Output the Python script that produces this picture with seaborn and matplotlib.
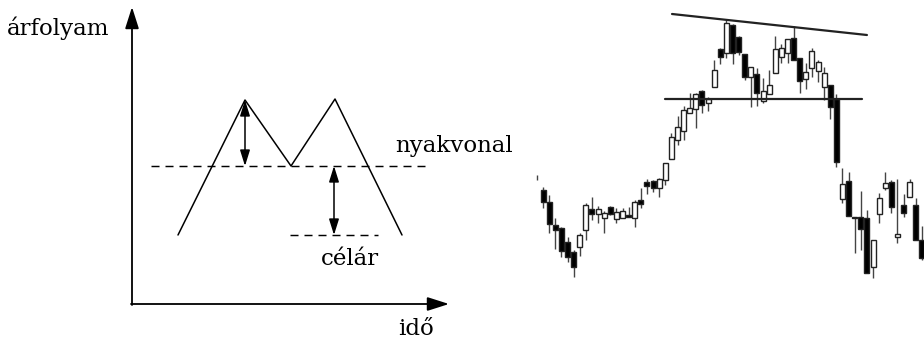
import numpy as np
import pandas as pd
import matplotlib.pyplot as plt
import seaborn as sns

# --- sematikus dupla csúcs ---
pattern_t = [46, 113, 159, 203, 270]
pattern_p = [69, 204, 138, 205, 69]
neck_level = 138
neck_span = [19, 293]
target_level = 69
target_span = [158, 246]

# --- gyertyák (open, high, low, close) ---
opens = [123, 110, 98, 75, 72, 58, 48, 53, 70, 91, 86, 82, 93, 81, 82, 85, 82, 100, 118, 119,
         112, 120, 141, 160, 169, 187, 191, 209, 197, 213, 251, 247, 275, 263, 246, 223, 226, 199, 206, 227,
         243, 247, 262, 242, 221, 232, 229, 213, 215, 201, 101, 119, 83, 83, 82, 33, 86, 112, 118, 63,
         95, 103, 95, 60]
closes = [123, 98, 76, 70, 49, 43, 33, 65, 95, 86, 91, 87, 86, 88, 89, 83, 98, 96, 114, 112,
          121, 137, 163, 173, 190, 192, 206, 195, 201, 230, 243, 277, 247, 248, 223, 233, 207, 209, 215, 251,
          252, 261, 240, 219, 228, 249, 238, 227, 193, 138, 116, 84, 82, 71, 27, 60, 102, 117, 93, 66,
          87, 118, 60, 42]
highs = [125, 113, 105, 82, 73, 63, 50, 67, 97, 103, 94, 89, 94, 92, 92, 93, 100, 112, 121, 120,
         122, 137, 167, 184, 194, 207, 207, 210, 203, 240, 252, 280, 276, 264, 246, 233, 232, 222, 230, 264,
         256, 261, 274, 242, 237, 252, 240, 233, 215, 206, 132, 128, 83, 109, 90, 60, 107, 128, 120, 121,
         106, 121, 102, 74]
lows = [120, 92, 67, 51, 43, 38, 23, 44, 60, 80, 77, 67, 85, 77, 82, 83, 73, 92, 106, 108,
        103, 115, 141, 155, 160, 187, 172, 187, 189, 213, 236, 242, 236, 245, 220, 193, 194, 197, 206, 227,
        237, 237, 240, 207, 211, 223, 218, 200, 181, 133, 97, 84, 47, 50, 27, 22, 77, 110, 87, 57,
        83, 103, 60, 40]
top_line_x = [22.1, 54.0]
top_line_y = [286, 265]
neck2_x = [20.9, 53.2]
neck2_y = [201, 201]

candles = pd.DataFrame({"open": opens, "high": highs, "low": lows, "close": closes})
candles["day"] = np.arange(len(candles))
candles["up"] = candles["close"] >= candles["open"]

sns.set_theme(style="white")
plt.rcParams["font.family"] = ["DejaVu Serif", "DejaVu Sans"]

fig = plt.figure(figsize=(9.24, 3.39), dpi=100)

# bal oldali ábra
ax = fig.add_axes([132 / 924, 35 / 339, 316 / 924, 296 / 339])
ax.set_xlim(0, 316)
ax.set_ylim(0, 296)
ax.axis("off")

ax.annotate("", xy=(0, 297), xytext=(0, -1), annotation_clip=False,
            arrowprops=dict(arrowstyle="-|>,head_length=1.1,head_width=0.35", color="black", lw=1.3,
                            shrinkA=0, shrinkB=0))
ax.annotate("", xy=(317, 0), xytext=(-1, 0), annotation_clip=False,
            arrowprops=dict(arrowstyle="-|>,head_length=1.1,head_width=0.35", color="black", lw=1.3,
                            shrinkA=0, shrinkB=0))

sns.lineplot(x=pattern_t, y=pattern_p, ax=ax, color="black", lw=1.1, sort=False)
ax.plot(neck_span, [neck_level, neck_level], color="black", lw=1.05, dashes=(5.5, 4.1))
ax.plot(target_span, [target_level, target_level], color="black", lw=1.05, dashes=(5.5, 4.1))

arrow = dict(arrowstyle="<|-|>,head_length=0.8,head_width=0.25", color="black", lw=1.1,
             shrinkA=0, shrinkB=0)
ax.annotate("", xy=(pattern_t[1], pattern_p[1]), xytext=(pattern_t[1], neck_level), arrowprops=arrow)
ax.annotate("", xy=(202, neck_level), xytext=(202, target_level), arrowprops=arrow)

fs = 16.5
txt = dict(fontsize=fs, ha="left", va="baseline", color="black", clip_on=False)
ax.text(-125, 269, "árfolyam", **txt)
ax.text(263, 152, "nyakvonal", **txt)
ax.text(189, 39, "célár", **txt)
ax.text(266, -31, "idő", **txt)

# jobb oldali gyertyadiagram
ax2 = fig.add_axes([530 / 924, 0, 394 / 924, 1])
ax2.set_xlim(-1.146, 63.34)
ax2.set_ylim(-39, 300)
ax2.axis("off")

ax2.vlines(candles["day"], candles["low"], candles["high"], color="#444444", lw=1.0, zorder=1)
body = candles[candles["open"] != candles["close"]]
bottom = body[["open", "close"]].min(axis=1)
height = (body["close"] - body["open"]).abs()
colors = np.where(body["up"], "white", "black")
ax2.bar(body["day"], height, bottom=bottom, width=0.82, color=colors,
        edgecolor="#222222", linewidth=1.0, zorder=2)

ax2.plot(top_line_x, top_line_y, color="#222222", lw=1.6, zorder=3)
ax2.plot(neck2_x, neck2_y, color="#222222", lw=1.6, zorder=3)

fig.savefig("out.png", dpi=100)
